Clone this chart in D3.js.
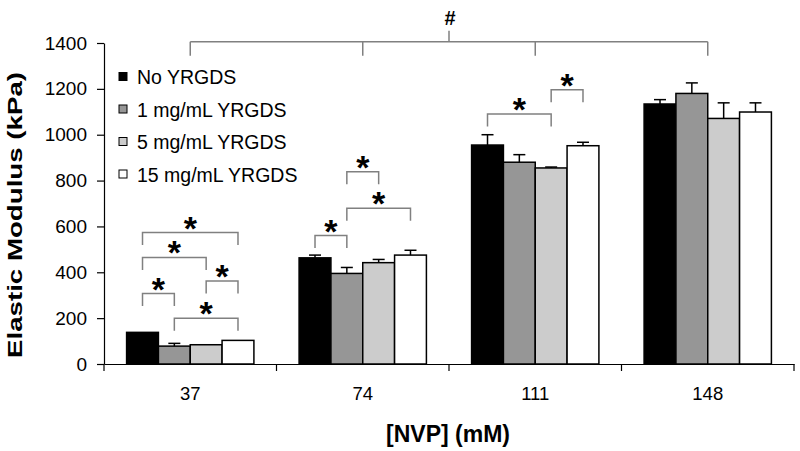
<!DOCTYPE html>
<html>
<head>
<meta charset="utf-8">
<script src="https://cdn.jsdelivr.net/npm/d3@7"></script>
<style>
  html, body { margin: 0; padding: 0; background: #fff; }
  svg { display: block; font-family: "Liberation Sans", Arial, sans-serif; }
</style>
</head>
<body>
<svg id="chart" width="800" height="451"></svg>
<script>
// ---- data ----
const categories = ["37", "74", "111", "148"];
const seriesNames = ["No YRGDS", "1 mg/mL YRGDS", "5 mg/mL YRGDS", "15 mg/mL YRGDS"];
const noYRGDS   = [138, 463, 955, 1134];
const yrgds1    = [78, 395, 880, 1180];
const yrgds5    = [84, 442, 855, 1071];
const yrgds15   = [103, 475, 952, 1099];
const errNo     = [0, 12, 45, 19];
const err1      = [12, 26, 33, 46];
const err5      = [0, 14, 4, 68];
const err15     = [0, 21, 15, 40];
const yTicks    = [0, 200, 400, 600, 800, 1000, 1200, 1400];
// significance brackets: category, series index a, series index b, bracket level (kPa)
const brackets = [
  { cat: "37",  a: 0, b: 1, level: 307 },
  { cat: "37",  a: 0, b: 2, level: 465 },
  { cat: "37",  a: 0, b: 3, level: 573 },
  { cat: "37",  a: 2, b: 3, level: 362 },
  { cat: "37",  a: 1, b: 3, level: 200 },
  { cat: "74",  a: 0, b: 1, level: 560 },
  { cat: "74",  a: 1, b: 2, level: 839 },
  { cat: "74",  a: 1, b: 3, level: 679 },
  { cat: "111", a: 0, b: 2, level: 1090 },
  { cat: "111", a: 2, b: 3, level: 1196 }
];
const topBracketLevel = 1405;
const topBracketLabel = "#";
const xTitle = "[NVP] (mM)";
const yTitle = "Elastic Modulus (kPa)";

// ---- styles ----
const colors = ["#000000", "#969696", "#cccccc", "#ffffff"];
const values = [noYRGDS, yrgds1, yrgds5, yrgds15];
const errs = [errNo, err1, err5, err15];

const svg = d3.select("#chart");
const mLeft = 104, mRight = 794, mTop = 43, mBottom = 364;

const x0 = d3.scaleBand().domain(categories).range([mLeft, mRight]).padding(0);
const x1 = d3.scaleBand().domain(d3.range(seriesNames.length))
  .range([0, x0.bandwidth()]).paddingInner(0).paddingOuter(0.71);
const y = d3.scaleLinear().domain([0, 1400]).range([mBottom, mTop]);

// y axis
const yAxis = d3.axisLeft(y).tickValues(yTicks).tickFormat(d3.format("d"))
  .tickSize(7).tickSizeOuter(0).tickPadding(10);
const gy = svg.append("g").attr("transform", `translate(${mLeft},0)`).call(yAxis);
gy.selectAll("text").attr("font-size", 19).attr("fill", "#000").attr("font-family", "Liberation Sans, Arial, sans-serif");
gy.selectAll("line").attr("stroke", "#000").attr("stroke-width", 1.2);
gy.select(".domain").attr("stroke", "#000").attr("stroke-width", 1.2);

// x axis (labels at centers, ticks at boundaries)
const xAxis = d3.axisBottom(x0).tickSize(0).tickSizeOuter(0).tickPadding(23);
const gx = svg.append("g").attr("transform", `translate(0,${mBottom})`).call(xAxis);
gx.selectAll("text").attr("font-size", 18.5).attr("fill", "#000").attr("font-family", "Liberation Sans, Arial, sans-serif");
gx.select(".domain").attr("stroke", "#000").attr("stroke-width", 1.2);
const boundaries = categories.map(c => x0(c)).concat([x0(categories[categories.length - 1]) + x0.bandwidth()]);
gx.selectAll("line.bnd").data(boundaries).enter().append("line")
  .attr("class", "bnd")
  .attr("x1", d => d).attr("x2", d => d).attr("y1", 0).attr("y2", 7)
  .attr("stroke", "#000").attr("stroke-width", 1.2);

// bars
const groups = svg.append("g").selectAll("g").data(categories).enter().append("g")
  .attr("transform", d => `translate(${x0(d)},0)`);
groups.selectAll("rect").data((c, ci) => seriesNames.map((s, si) => ({ si, v: values[si][ci], e: errs[si][ci] })))
  .enter().append("rect")
  .attr("x", d => x1(d.si)).attr("width", x1.bandwidth())
  .attr("y", d => y(d.v)).attr("height", d => y(0) - y(d.v))
  .attr("fill", d => colors[d.si]).attr("stroke", "#000").attr("stroke-width", 1.5);

// error bars
const capW = 12;
groups.each(function (c, ci) {
  const g = d3.select(this);
  seriesNames.forEach((s, si) => {
    const e = errs[si][ci];
    if (!e) return;
    const cx = x1(si) + x1.bandwidth() / 2;
    const v = values[si][ci];
    g.append("line").attr("x1", cx).attr("x2", cx).attr("y1", y(v)).attr("y2", y(v + e))
      .attr("stroke", "#000").attr("stroke-width", 1.5);
    g.append("line").attr("x1", cx - capW / 2).attr("x2", cx + capW / 2).attr("y1", y(v + e)).attr("y2", y(v + e))
      .attr("stroke", "#000").attr("stroke-width", 1.5);
  });
});

// significance brackets
const legDrop = 12.5;
const bracketColor = "#808080";
const bg = svg.append("g");
brackets.forEach(b => {
  const xa = x0(b.cat) + x1(b.a) + x1.bandwidth() / 2;
  const xb = x0(b.cat) + x1(b.b) + x1.bandwidth() / 2;
  const yl = y(b.level);
  bg.append("path")
    .attr("d", `M${xa},${yl + legDrop}V${yl}H${xb}V${yl + legDrop}`)
    .attr("fill", "none").attr("stroke", bracketColor).attr("stroke-width", 1.5);
  bg.append("text").attr("x", (xa + xb) / 2).attr("y", yl - 12 + 19)
    .attr("text-anchor", "middle").attr("font-weight", "bold").attr("font-size", 34)
    .attr("fill", "#000").text("*");
});

// top bracket (#)
const centers = categories.map(c => x0(c) + x0.bandwidth() / 2);
const yt = y(topBracketLevel);
bg.append("line").attr("x1", centers[0]).attr("x2", centers[centers.length - 1]).attr("y1", yt).attr("y2", yt)
  .attr("stroke", bracketColor).attr("stroke-width", 1.5);
centers.forEach(cx => {
  bg.append("line").attr("x1", cx).attr("x2", cx).attr("y1", yt).attr("y2", yt + 14)
    .attr("stroke", bracketColor).attr("stroke-width", 1.5);
});
const midX = (centers[0] + centers[centers.length - 1]) / 2;
bg.append("line").attr("x1", midX).attr("x2", midX).attr("y1", yt).attr("y2", yt - 11)
  .attr("stroke", bracketColor).attr("stroke-width", 1.5);
bg.append("text").attr("x", midX + 1).attr("y", yt - 17).attr("text-anchor", "middle")
  .attr("font-weight", "bold").attr("font-size", 20).attr("fill", "#000").text(topBracketLabel);

// legend
const lg = svg.append("g").attr("transform", "translate(119,0)");
seriesNames.forEach((s, i) => {
  const ry = 76.5 + i * 32.5;
  lg.append("rect").attr("x", 0).attr("y", ry - 4).attr("width", 8).attr("height", 8)
    .attr("fill", colors[i]).attr("stroke", "#000").attr("stroke-width", 1);
  lg.append("text").attr("x", 18).attr("y", ry + 7.5).attr("font-size", 19.5).attr("fill", "#000").text(s);
});

// axis titles
svg.append("text").attr("x", 448).attr("y", 442).attr("text-anchor", "middle")
  .attr("font-weight", "bold").attr("font-size", 23).attr("fill", "#000").text(xTitle);
svg.append("text").attr("transform", "translate(22,215) rotate(-90)").attr("text-anchor", "middle")
  .attr("font-weight", "bold").attr("font-size", 21).attr("fill", "#000")
  .attr("textLength", 286).attr("lengthAdjust", "spacingAndGlyphs").text(yTitle);
</script>
</body>
</html>
